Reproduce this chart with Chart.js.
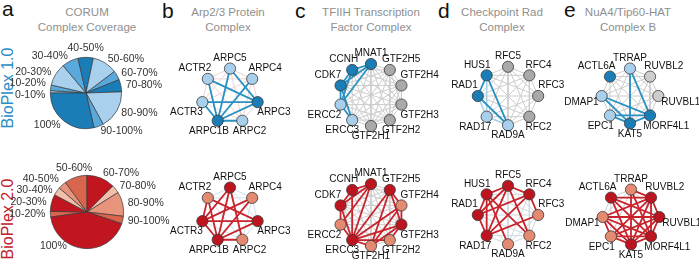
<!DOCTYPE html>
<html><head><meta charset="utf-8">
<script src="https://cdn.jsdelivr.net/npm/chart.js@4.4.1/dist/chart.umd.min.js"></script>
<style>
html,body{margin:0;padding:0;background:#fff}
body{position:relative;width:699px;height:267px;overflow:hidden;font-family:"Liberation Sans",Arial,Helvetica,sans-serif}
canvas{position:absolute}
.letter{position:absolute;font-size:21px;line-height:21px;color:#111}
.title{position:absolute;width:150px;font-size:11.5px;line-height:15.5px;color:#8f8f8f;text-align:center;white-space:nowrap}
.side{position:absolute;font-size:16px;line-height:18px;width:110px;height:18px;text-align:center;transform:rotate(-90deg);white-space:nowrap}
</style></head><body>
<div class="letter" style="left:2px;top:-2px">a</div>
<div class="letter" style="left:162px;top:0px">b</div>
<div class="letter" style="left:295px;top:0px">c</div>
<div class="letter" style="left:438px;top:0px">d</div>
<div class="letter" style="left:564px;top:-1px">e</div>
<div class="title" style="left:12px;top:4.5px">CORUM<br>Complex Coverage</div>
<div class="title" style="left:153px;top:4.5px">Arp2/3 Protein<br>Complex</div>
<div class="title" style="left:296px;top:4.5px">TFIIH Transcription<br>Factor Complex</div>
<div class="title" style="left:427px;top:4.5px">Checkpoint Rad<br>Complex</div>
<div class="title" style="left:553px;top:4.5px">NuA4/Tip60-HAT<br>Complex B</div>
<div class="side" style="left:-47px;top:79px;color:#2a8cc6">BioPlex 1.0</div>
<div class="side" style="left:-47px;top:210px;color:#c2202a">BioPlex 2.0</div>
<canvas id="pie1"></canvas>
<canvas id="pie2"></canvas>
<canvas id="b1"></canvas><canvas id="b2"></canvas>
<canvas id="c1"></canvas><canvas id="c2"></canvas>
<canvas id="d1"></canvas><canvas id="d2"></canvas>
<canvas id="e1"></canvas><canvas id="e2"></canvas>
<script>
// ---------------- data ----------------
const coverageBins = ['0-10%','10-20%','20-30%','30-40%','40-50%','50-60%','60-70%','70-80%','80-90%','90-100%','100%'];
const bioplex1Coverage = [1.1, 2.5, 10.3, 7.5, 6.9, 11.4, 4.2, 5.6, 17.5, 4.4, 28.6];
const bioplex2Coverage = [0, 2.5, 7.5, 3.6, 3.6, 10.0, 12.5, 3.6, 10.8, 3.3, 42.6];
const bioplex1Shades = ['light','mid','light','mid','dark','light','mid','dark','light','mid','dark'];
const bioplex2Shades = ['mid','mid','dark','light','salmon','mid','dark','light','salmon','mid','dark'];

const arpNodes = ['ARPC5','ARPC4','ARPC3','ARPC2','ARPC1B','ACTR3','ACTR2'];
const arpState1 = ['lo','lo','hi','lo','hi','lo','lo'];
const arpEdges1 = [['ACTR2','ARPC1B'],['ACTR2','ARPC3'],['ARPC5','ARPC1B'],['ARPC5','ARPC3'],['ARPC4','ARPC1B'],['ACTR3','ARPC3'],['ACTR3','ARPC1B'],['ARPC1B','ARPC3'],['ARPC1B','ARPC2']];
const arpState2 = ['hi','lo','hi','lo','hi','hi','lo'];
const arpEdges2 = [['ACTR2','ACTR3'],['ACTR2','ARPC1B'],['ACTR2','ARPC3'],['ARPC5','ACTR3'],['ARPC5','ARPC1B'],['ARPC5','ARPC2'],['ARPC4','ACTR3'],['ARPC4','ARPC1B'],['ACTR3','ARPC3'],['ACTR3','ARPC1B'],['ARPC1B','ARPC3'],['ARPC1B','ARPC2']];

const tfiihNodes = ['MNAT1','GTF2H5','GTF2H4','GTF2H3','GTF2H2','GTF2H1','ERCC3','ERCC2','CDK7','CCNH'];
const tfiihState1 = ['hi','na','na','na','na','na','lo','lo','hi','hi'];
const tfiihEdges1 = [['MNAT1','CCNH'],['MNAT1','CDK7'],['MNAT1','ERCC2'],['CCNH','CDK7'],['CCNH','ERCC2'],['CDK7','ERCC2'],['CDK7','ERCC3'],['ERCC2','ERCC3']];
const tfiihState2 = ['hi','hi','lo','hi','lo','lo','hi','lo','hi','hi'];
const tfiihEdges2 = [['MNAT1','CCNH'],['MNAT1','CDK7'],['MNAT1','ERCC3'],['MNAT1','ERCC2'],['CCNH','CDK7'],['CCNH','ERCC3'],['CDK7','ERCC2'],['CDK7','ERCC3'],['ERCC2','ERCC3'],['ERCC3','GTF2H1'],['ERCC3','GTF2H2'],['ERCC3','GTF2H3'],['ERCC3','GTF2H4'],['ERCC3','GTF2H5'],['GTF2H5','GTF2H4'],['GTF2H5','GTF2H3'],['GTF2H5','GTF2H1'],['GTF2H4','GTF2H3'],['GTF2H3','GTF2H2'],['GTF2H3','GTF2H1'],['GTF2H4','GTF2H1']];

const radNodes = ['RFC5','RFC4','RFC3','RFC2','RAD9A','RAD17','RAD1','HUS1'];
const radState1 = ['na','na','na','na','lo','lo','hi','hi'];
const radEdges1 = [['HUS1','RAD1'],['HUS1','RAD9A'],['RAD1','RAD9A']];
const radWeakEdges1 = [['HUS1','RAD17'],['RAD17','RAD9A'],['RAD1','RAD17']];
const radState2 = ['hi','hi','lo','lo','lo','hi','hi','hi'];
const radEdges2 = [['HUS1','RAD1'],['HUS1','RFC5'],['HUS1','RAD17'],['HUS1','RAD9A'],['HUS1','RFC2'],['RAD1','RFC5'],['RAD1','RFC4'],['RAD1','RAD17'],['RFC5','RFC4'],['RFC5','RAD17'],['RFC5','RFC2'],['RFC4','RAD17'],['RFC4','RFC3'],['RAD17','RFC3']];

const nuaNodes = ['TRRAP','RUVBL2','RUVBL1','MORF4L1','KAT5','EPC1','DMAP1','ACTL6A'];
const nuaState1 = ['lo','na','na','hi','hi','lo','lo','hi'];
const nuaEdges1 = [['TRRAP','KAT5'],['TRRAP','MORF4L1'],['DMAP1','KAT5'],['DMAP1','MORF4L1'],['EPC1','KAT5'],['EPC1','MORF4L1'],['KAT5','MORF4L1']];
const nuaState2 = ['lo','hi','hi','hi','hi','lo','lo','hi'];
const nuaEdges2 = [['ACTL6A','RUVBL2'],['ACTL6A','RUVBL1'],['ACTL6A','MORF4L1'],['ACTL6A','KAT5'],['TRRAP','RUVBL2'],['TRRAP','MORF4L1'],['TRRAP','KAT5'],['RUVBL2','RUVBL1'],['RUVBL2','MORF4L1'],['RUVBL2','KAT5'],['RUVBL2','EPC1'],['RUVBL2','DMAP1'],['RUVBL1','DMAP1'],['RUVBL1','EPC1'],['RUVBL1','KAT5'],['RUVBL1','MORF4L1'],['MORF4L1','DMAP1'],['MORF4L1','EPC1'],['MORF4L1','KAT5'],['KAT5','EPC1'],['KAT5','DMAP1'],['DMAP1','EPC1']];

// ---------------- styles ----------------
const PIE_BLUE = {light:'#a9d1ee', mid:'#5aa9dc', dark:'#1b7db7'};
const PIE_RED = {light:'#f3bfab', salmon:'#e8937b', mid:'#d9654d', dark:'#c1161f'};
const NET_BLUE = {hi:'#1b7db6', lo:'#a8cfec', na:'#a9a9a9', edge:'#2a92c2', weak:'#a9d0ea'};
const NET_RED = {hi:'#bd1520', lo:'#e48a70', na:'#a9a9a9', edge:'#c9242d', weak:'#eeb7a8'};
const FONT = '"Liberation Sans", Arial, Helvetica, sans-serif';

function drawPie(id, spec) {
  const cv = document.getElementById(id);
  cv.width = spec.W; cv.height = spec.H;
  cv.style.left = spec.left + 'px'; cv.style.top = spec.top + 'px';
  const pad = {left: spec.cx - spec.left - spec.r, right: spec.left + spec.W - spec.cx - spec.r,
               top: spec.cy - spec.top - spec.r, bottom: spec.top + spec.H - spec.cy - spec.r};
  const labelPlugin = {
    id: 'pieLabels',
    afterDraw(chart) {
      const meta = chart.getDatasetMeta(0), ctx = chart.ctx;
      ctx.save();
      ctx.font = '10.5px ' + FONT; ctx.fillStyle = '#333'; ctx.textBaseline = 'middle';
      const items = [];
      meta.data.forEach((arc, i) => {
        if (!spec.values[i]) return;
        const p = arc.getProps(['x','y','startAngle','endAngle','outerRadius'], true);
        const text = spec.labels[i];
        const ov = spec.overrides && spec.overrides[text];
        let mid = (p.startAngle + p.endAngle) / 2, dist = p.outerRadius + 5;
        if (ov) { mid = (ov.angle - 90) * Math.PI / 180; dist = p.outerRadius + ov.gap; }
        const ux = Math.cos(mid), uy = Math.sin(mid);
        let align = ux > 0.35 ? 'left' : (ux < -0.35 ? 'right' : 'center');
        if (ov) align = 'center';
        let px = p.x + dist * ux, py = p.y + dist * uy;
        if (align === 'center' && !ov) py += uy > 0 ? 4 : -4;
        items.push({text, px, py, align});
      });
      ['left','right'].forEach(side => {
        const g = items.filter(it => it.align === side).sort((a, b) => a.py - b.py);
        for (let it = 0; it < 30; it++) {
          for (let k = 1; k < g.length; k++) {
            const d = g[k].py - g[k-1].py;
            if (d < 11.5) { const s = (11.5 - d) / 2; g[k].py += s; g[k-1].py -= s; }
          }
        }
      });
      items.forEach(it => { ctx.textAlign = it.align; ctx.fillText(it.text, it.px, it.py); });
      ctx.restore();
    }
  };
  new Chart(cv, {
    type: 'pie',
    data: {labels: spec.labels, datasets: [{data: spec.values, backgroundColor: spec.shades.map(s => spec.palette[s]),
      borderColor: '#3a3a3a', borderWidth: 0.7, hoverOffset: 0, offset: 0}]},
    options: {responsive: false, animation: false, devicePixelRatio: 1, rotation: spec.rotation,
      layout: {padding: pad}, events: [],
      plugins: {legend: {display: false}, tooltip: {enabled: false}}},
    plugins: [labelPlugin]
  });
}

function drawNetwork(id, spec) {
  const cv = document.getElementById(id);
  cv.width = spec.W; cv.height = spec.H;
  cv.style.left = (spec.cx - spec.W / 2) + 'px'; cv.style.top = (spec.cy - spec.H / 2) + 'px';
  const n = spec.nodes.length;
  const pos = spec.nodes.map((_, i) => { const a = 2 * Math.PI * i / n; return {x: Math.sin(a), y: Math.cos(a), a}; });
  const pt = name => { const p = pos[spec.nodes.indexOf(name)]; return {x: p.x, y: p.y}; };
  const pal = spec.palette;
  const datasets = [{
    data: pos.map(p => ({x: p.x, y: p.y})), showLine: false, order: 0,
    pointRadius: 5.6, pointBackgroundColor: spec.states.map(s => s === 'na' ? (spec.naColor || pal.na) : pal[s]),
    pointBorderColor: '#3a3a3a', pointBorderWidth: 0.8
  }];
  const addEdge = (a, b, color, width, order) => datasets.push({data: [pt(a), pt(b)], showLine: true, borderColor: color,
    borderWidth: width, pointRadius: 0, order, tension: 0});
  spec.edges.forEach(([a, b]) => addEdge(a, b, pal.edge, 1.8, 1));
  (spec.weak || []).forEach(([a, b]) => addEdge(a, b, pal.weak, 1.5, 2));
  for (let i = 0; i < n; i++) for (let j = i + 1; j < n; j++) addEdge(spec.nodes[i], spec.nodes[j], spec.bg, 1, 3);
  const kx = spec.W / 2 / spec.R, ky = spec.H / 2 / spec.R;
  const labelPlugin = {
    id: 'nodeLabels',
    afterDatasetsDraw(chart) {
      const ctx = chart.ctx; ctx.save();
      ctx.font = '10px ' + FONT; ctx.fillStyle = '#111'; ctx.textAlign = 'center'; ctx.textBaseline = 'middle';
      spec.nodes.forEach((name, i) => {
        const p = pos[i];
        const px = chart.scales.x.getPixelForValue(p.x), py = chart.scales.y.getPixelForValue(p.y);
        const s = Math.sin(p.a), c = Math.cos(p.a), w = ctx.measureText(name).width;
        let dx, dy;
        if (Math.abs(c) < 0.1) { dx = s * (w / 2 + (spec.sideBelow ? 3 : 0)); dy = spec.sideBelow ? 6 : -10.5; }
        else { dx = s * (w / 2); dy = c > 0 ? -10.5 : 10.5; }
        ctx.fillText(name, px + dx, py + dy);
      });
      ctx.restore();
    }
  };
  new Chart(cv, {
    type: 'scatter',
    data: {datasets},
    options: {responsive: false, animation: false, devicePixelRatio: 1, events: [],
      layout: {padding: 0},
      scales: {x: {type: 'linear', display: false, min: -kx, max: kx}, y: {type: 'linear', display: false, min: -ky, max: ky}},
      plugins: {legend: {display: false}, tooltip: {enabled: false}}},
    plugins: [labelPlugin]
  });
}

drawPie('pie1', {labels: coverageBins, values: bioplex1Coverage, shades: bioplex1Shades, palette: PIE_BLUE,
  rotation: 270, cx: 86, cy: 93, r: 36, left: 0, top: 38, W: 172, H: 112});
drawPie('pie2', {labels: coverageBins, values: bioplex2Coverage, shades: bioplex2Shades, palette: PIE_RED,
  rotation: 262, cx: 87, cy: 212, r: 37, left: 0, top: 160, W: 174, H: 106,
  overrides: {'100%': {angle: 225, gap: 11}}});

const W = 150, H = 112;
drawNetwork('b1', {nodes: arpNodes, states: arpState1, edges: arpEdges1, palette: NET_BLUE, bg: '#efd3d3', cx: 230, cy: 96, R: 31, W, H});
drawNetwork('b2', {nodes: arpNodes, states: arpState2, edges: arpEdges2, palette: NET_RED, bg: '#cfdfea', cx: 230, cy: 215, R: 31, W, H});
drawNetwork('c1', {nodes: tfiihNodes, states: tfiihState1, edges: tfiihEdges1, palette: NET_BLUE, bg: '#cccccc', cx: 370.7, cy: 95, R: 35, W, H});
drawNetwork('c2', {nodes: tfiihNodes, states: tfiihState2, edges: tfiihEdges2, palette: NET_RED, bg: '#cccccc', cx: 370.5, cy: 215, R: 35, W, H});
drawNetwork('d1', {nodes: radNodes, states: radState1, edges: radEdges1, weak: radWeakEdges1, palette: NET_BLUE, bg: '#cccccc', cx: 508, cy: 95.5, R: 33, W, H});
drawNetwork('d2', {nodes: radNodes, states: radState2, edges: radEdges2, palette: NET_RED, bg: '#cfd7dd', cx: 508, cy: 215, R: 33, W, H});
drawNetwork('e1', {nodes: nuaNodes, states: nuaState1, edges: nuaEdges1, palette: NET_BLUE, bg: '#cccccc', naColor: '#cdcdcd', sideBelow: true, cx: 630, cy: 95.5, R: 31, W, H});
drawNetwork('e2', {nodes: nuaNodes, states: nuaState2, edges: nuaEdges2, palette: NET_RED, bg: '#cccccc', sideBelow: true, cx: 630.5, cy: 216.5, R: 31, W, H});
</script>
</body></html>
